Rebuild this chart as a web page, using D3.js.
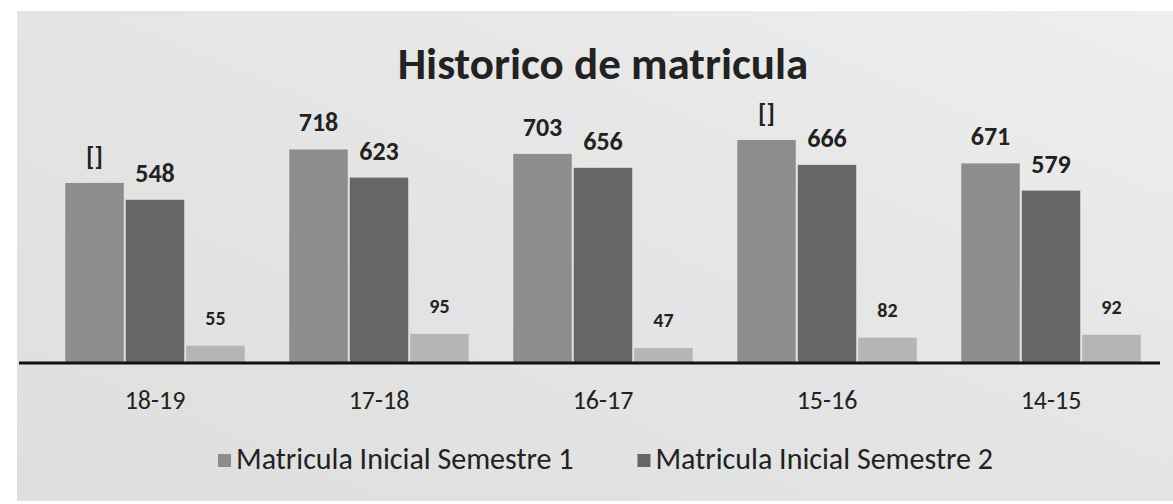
<!DOCTYPE html>
<html>
<head>
<meta charset="utf-8">
<script src="https://d3js.org/d3.v7.min.js"></script>
<style>
	html, body { margin: 0; padding: 0; background: #fff; }
	svg { display: block; }
</style>
</head>
<body>
<div id="chart"></div>
<script>
// データ
const categories = ['18-19', '17-18', '16-17', '15-16', '14-15'];
const seriesNames = ['Matricula Inicial Semestre 1', 'Matricula Inicial Semestre 2', ''];
const semestre1 = [605, 718, 703, 750, 671];
const semestre2 = [548, 623, 656, 666, 579];
const tercera = [55, 95, 47, 82, 92];
// ラベルが欠けている棒は "[]" と表示
const semestre1Labels = ['[]', '718', '703', '[]', '671'];
const semestre2Labels = ['548', '623', '656', '666', '579'];
const terceraLabels = ['55', '95', '47', '82', '92'];
const yTicks = [0, 800];

(function() {
	const width = 1173;
	const height = 504;
	const baseline = 362;
	const fontFamily = 'Carlito, Lato, "Open Sans", sans-serif';
	const colors = ['#8d8d8d', '#666666', '#b5b5b5'];

	const series = [semestre1, semestre2, tercera];
	const labels = [semestre1Labels, semestre2Labels, terceraLabels];

	const svg = d3.select('#chart')
		.append('svg')
		.attr('width', width)
		.attr('height', height);

	// 背景（写真の灰色）
	const defs = svg.append('defs');
	const grad = defs.append('linearGradient')
		.attr('id', 'bg')
		.attr('x1', '0').attr('y1', '1').attr('x2', '1').attr('y2', '0');
	grad.append('stop').attr('offset', '0').attr('stop-color', '#dedede');
	grad.append('stop').attr('offset', '0.6').attr('stop-color', '#e6e6e6');
	grad.append('stop').attr('offset', '1').attr('stop-color', '#eeeeee');

	svg.append('rect')
		.attr('x', 17).attr('y', 11)
		.attr('width', width - 17).attr('height', 490)
		.attr('fill', 'url(#bg)');

	// スケール
	const x = d3.scaleBand()
		.domain(categories)
		.range([43, 1163])
		.paddingInner(0.19)
		.paddingOuter(0.095);

	const xSub = d3.scaleBand()
		.domain(d3.range(series.length))
		.range([0, x.bandwidth()]);

	const y = d3.scaleLinear()
		.domain(d3.extent(yTicks))
		.range([baseline, baseline - 800 * 0.296]);

	// タイトル
	svg.append('text')
		.attr('x', 603)
		.attr('y', 79)
		.attr('text-anchor', 'middle')
		.style('font-family', fontFamily)
		.style('font-weight', 'bold')
		.style('font-size', '45px')
		.style('fill', '#222')
		.text('Historico de matricula');

	// 棒
	const groups = svg.append('g')
		.selectAll('g')
		.data(categories)
		.enter()
		.append('g')
		.attr('transform', d => `translate(${x(d)},0)`);

	groups.selectAll('rect')
		.data((c, ci) => series.map((s, si) => ({ si: si, v: s[ci] })))
		.enter()
		.append('rect')
		.attr('x', d => xSub(d.si) + 1)
		.attr('y', d => y(d.v))
		.attr('width', xSub.bandwidth() - 2)
		.attr('height', d => y(0) - y(d.v))
		.style('fill', d => colors[d.si]);

	// 値ラベル
	groups.selectAll('text')
		.data((c, ci) => series.map((s, si) => ({ si: si, v: s[ci], label: labels[si][ci] })))
		.enter()
		.append('text')
		.attr('x', d => xSub(d.si) + xSub.bandwidth() / 2)
		.attr('y', d => y(d.v) - (d.si === 2 ? 21 : 18))
		.attr('text-anchor', 'middle')
		.style('font-family', fontFamily)
		.style('font-weight', 'bold')
		.style('font-size', d => d.si === 2 ? '20px' : '26px')
		.style('fill', '#222')
		.text(d => d.label);

	// X軸
	const xAxis = svg.append('g')
		.attr('transform', `translate(0,${baseline})`)
		.call(d3.axisBottom(x).tickSize(0).tickPadding(29));
	xAxis.select('.domain').remove();
	xAxis.selectAll('text')
		.style('font-family', fontFamily)
		.style('font-size', '26px')
		.style('fill', '#222');

	svg.append('line')
		.attr('x1', 19).attr('x2', 1160)
		.attr('y1', baseline + 1).attr('y2', baseline + 1)
		.style('stroke', '#111')
		.style('stroke-width', 3);

	// 凡例
	const legend = svg.append('g')
		.attr('transform', 'translate(218,469)');

	let lx = 0;
	seriesNames.slice(0, 2).forEach((name, i) => {
		const item = legend.append('g')
			.attr('transform', `translate(${lx},0)`);
		item.append('rect')
			.attr('x', 0).attr('y', -15)
			.attr('width', 13).attr('height', 13)
			.style('fill', colors[i]);
		const t = item.append('text')
			.attr('x', 18)
			.attr('y', 0)
			.style('font-family', fontFamily)
			.style('font-size', '30px')
			.style('fill', '#222')
			.text(name);
		lx += 18 + t.node().getComputedTextLength() + 64;
	});
}());
</script>
</body>
</html>
